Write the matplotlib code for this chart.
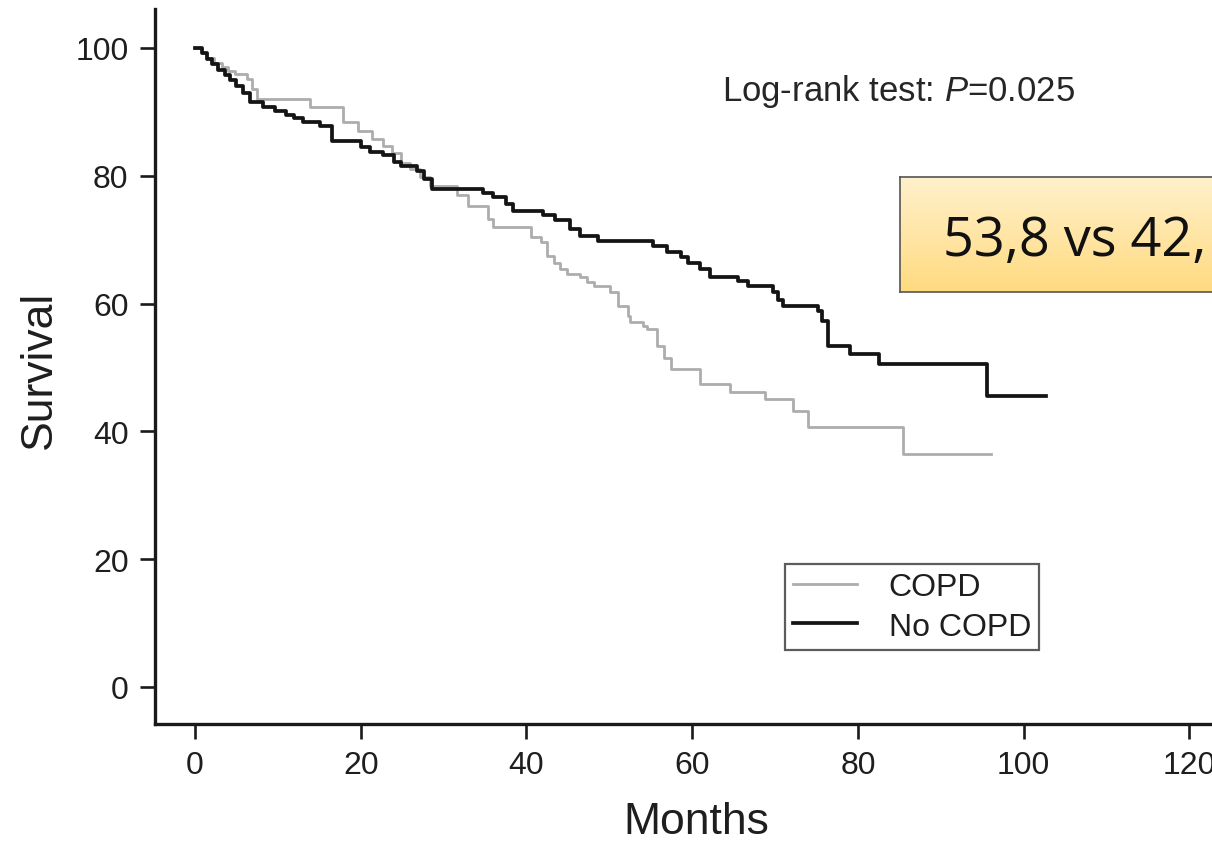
import numpy as np
import matplotlib
matplotlib.use("Agg")
from matplotlib import pyplot as plt

# Kaplan-Meier steps (months, survival %)
no_copd_months = [0, 0.8, 1.4, 2.0, 2.8, 3.6, 4.2, 5.0, 5.8, 6.6, 8.2, 9.6, 11.0, 12.0,
                  13.0, 15.1, 16.5, 20.0, 21.1, 22.7, 24.0, 24.8, 26.8, 27.6, 28.6,
                  34.8, 36.0, 37.5, 38.4, 42.0, 43.5, 45.3, 46.5, 48.6, 55.3, 57.0,
                  58.6, 59.5, 61.0, 62.2, 65.5, 66.7, 69.8, 70.4, 71.0, 75.2, 75.7,
                  76.4, 79.0, 82.5, 95.6, 102.7]
no_copd_surv = [100, 99.2, 98.3, 97.5, 96.6, 95.8, 95.0, 94.0, 92.9, 91.5, 90.8, 90.2,
                89.5, 89.0, 88.4, 87.8, 85.4, 84.5, 83.7, 83.2, 82.2, 81.5, 80.8, 79.5,
                77.9, 77.3, 76.6, 75.6, 74.5, 73.8, 73.0, 71.6, 70.6, 69.8, 69.0, 68.1,
                67.3, 66.4, 65.4, 64.2, 63.6, 62.8, 61.8, 60.6, 59.6, 58.8, 57.3, 53.4,
                52.1, 50.5, 45.5, 45.5]

copd_months = [0, 0.8, 1.5, 2.3, 3.2, 4.0, 4.8, 6.3, 6.9, 7.5, 13.9, 17.8, 19.7, 21.4,
               22.7, 23.8, 24.8, 26.0, 27.2, 28.4, 31.6, 32.9, 35.3, 36.0, 40.5, 41.7,
               42.5, 43.3, 44.1, 44.9, 46.5, 47.3, 48.1, 50.1, 51.0, 52.2, 52.5, 54.1,
               54.6, 55.8, 56.6, 57.4, 61.0, 64.6, 68.8, 72.2, 74.0, 85.4, 96.0]
copd_surv = [100, 99.2, 98.4, 97.6, 97.0, 96.4, 96.0, 95.1, 93.6, 92.0, 90.8, 88.4,
             87.0, 85.8, 84.7, 83.5, 82.0, 81.0, 79.8, 78.4, 77.0, 75.3, 73.2, 72.0,
             70.4, 69.6, 67.4, 66.3, 65.4, 64.6, 64.2, 63.4, 62.8, 61.8, 59.6, 58.1,
             57.1, 56.5, 56.0, 53.4, 51.5, 49.8, 47.4, 46.2, 45.1, 43.2, 40.7, 36.5,
             36.5]

x_ticks = [0, 20, 40, 60, 80, 100, 120]
y_ticks = [0, 20, 40, 60, 80, 100]

plt.rcParams['font.family'] = ['Liberation Sans', 'DejaVu Sans']
plt.rcParams['mathtext.fontset'] = 'custom'
plt.rcParams['mathtext.rm'] = 'Liberation Sans'
plt.rcParams['mathtext.it'] = 'Liberation Sans:italic'

fig = plt.figure(figsize=(12.12, 8.45), dpi=100)
ax = fig.add_axes([155 / 1212, 120 / 845, 1075 / 1212, 715 / 845])

ax.step(copd_months, copd_surv, where='post', color='#adadad', lw=2.0, label='COPD')
ax.step(no_copd_months, no_copd_surv, where='post', color='#141414', lw=2.7, label='No COPD')

ax.set_xlim(-4.83, 124.9)
ax.set_ylim(-5.8, 106.1)
ax.set_xticks(x_ticks)
ax.set_yticks(y_ticks)
for side in ['top', 'right']:
    ax.spines[side].set_visible(False)
for side in ['left', 'bottom']:
    ax.spines[side].set_linewidth(2.4)
    ax.spines[side].set_color('#1a1a1a')
ax.tick_params(axis='both', direction='out', length=11, width=1.9, color='#1a1a1a',
               labelsize=23, labelcolor='#1e1e1e', pad=8)

ax.set_ylabel('Survival', fontsize=32, color='#1e1e1e')
ax.yaxis.set_label_coords(-0.088, 0.497)
ax.set_xlabel('Months', fontsize=32, color='#1e1e1e')
ax.xaxis.set_label_coords(0.504, -0.108)

leg = ax.legend(loc='upper left', bbox_to_anchor=(785 / 1212, 1 - 565 / 845),
                bbox_transform=fig.transFigure, fontsize=23, frameon=True,
                fancybox=False, handlelength=2.0, handletextpad=1.0,
                labelspacing=0.3, borderpad=0.25, borderaxespad=0)
leg.get_frame().set_edgecolor('#333333')
leg.get_frame().set_linewidth(1.6)
for t in leg.get_texts():
    t.set_color('#1e1e1e')

fig.text(722 / 1212, 1 - 92 / 845, r'Log-rank test: $\mathit{P}$=0.025',
         fontsize=25, color='#262626', va='center', ha='left')

# yellow callout box, runs off the right edge like the source slide
box = fig.add_axes([900 / 1212, 1 - 293 / 845, 0.3, 115 / 845])
grad = np.linspace(0, 1, 100).reshape(-1, 1)
top = np.array([1.0, 0.945, 0.80])
bot = np.array([1.0, 0.855, 0.50])
img = top + (bot - top) * grad[:, :, None]
box.imshow(img, aspect='auto', extent=[0, 1, 0, 1], origin='upper')
box.set_xticks([])
box.set_yticks([])
for s in box.spines.values():
    s.set_color('#555555')
    s.set_linewidth(1.2)
box.text(0.118, 0.45, '53,8 vs 42,', fontsize=39, family='Open Sans',
         color='#111111', va='center', ha='left', transform=box.transAxes)

fig.savefig('out.png', dpi=100)
